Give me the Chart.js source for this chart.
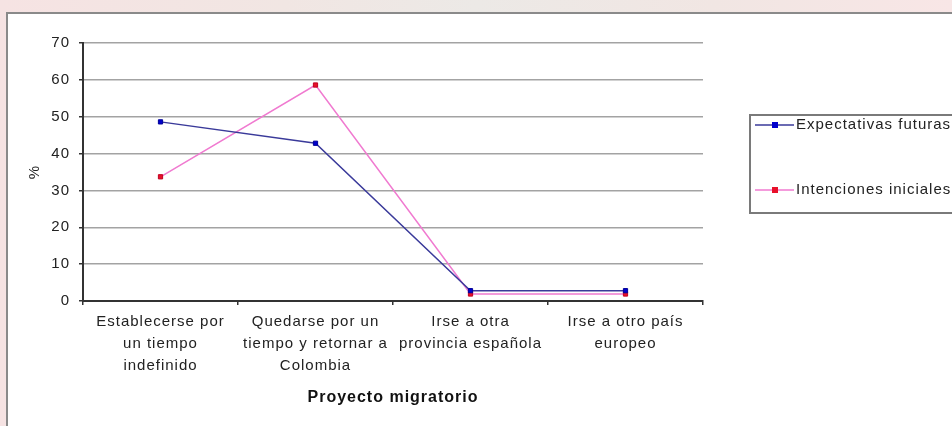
<!DOCTYPE html>
<html>
<head>
<meta charset="utf-8">
<script src="https://cdn.jsdelivr.net/npm/chart.js@4"></script>
<style>
  html, body { margin:0; padding:0; width:952px; height:426px; overflow:hidden; }
  body { background: linear-gradient(90deg, #f6e3e3 0%, #f1e6e3 30%, #ece9e6 50%, #f1e6e3 75%, #f8e6e6 100%); position:relative; }
  #frame { position:absolute; left:6px; top:12px; width:960px; height:430px; background:#fff; border-left:2px solid #8a8a8a; border-top:2px solid #8a8a8a; }
  #wrap { position:absolute; left:0; top:0; width:952px; height:426px; }
</style>
</head>
<body>
<div id="frame"></div>
<div id="wrap"><canvas id="c" width="952" height="426"></canvas></div>
<script>
const categories = [
  ["Establecerse por", "un tiempo", "indefinido"],
  ["Quedarse por un", "tiempo y retornar a", "Colombia"],
  ["Irse a otra", "provincia española"],
  ["Irse a otro país", "europeo"]
];
const expectativasFuturas = [48.6, 42.8, 2.8, 2.8];
const intencionesIniciales = [33.7, 58.6, 1.9, 1.9];
const seriesNames = ["Expectativas futuras", "Intenciones iniciales"];
const yTicks = [0, 10, 20, 30, 40, 50, 60, 70];
const xTitle = "Proyecto migratorio";
const yTitle = "%";

const spacingPlugin = {
  id: 'spacing',
  beforeLayout(chart) { chart.ctx.letterSpacing = '1px'; },
  beforeDraw(chart) { chart.ctx.letterSpacing = '1px'; }
};

const legendPlugin = {
  id: 'customLegend',
  afterDraw(chart) {
    const ctx = chart.ctx;
    ctx.save();
    ctx.strokeStyle = '#7a7a7a';
    ctx.lineWidth = 2;
    ctx.strokeRect(750, 115, 220, 98);
    const ys = [125, 190];
    chart.data.datasets.forEach((ds, i) => {
      const y = ys[i];
      ctx.strokeStyle = ds.borderColor;
      ctx.lineWidth = 1.5;
      ctx.beginPath(); ctx.moveTo(755, y); ctx.lineTo(794, y); ctx.stroke();
      ctx.fillStyle = ds.pointBackgroundColor;
      ctx.fillRect(772, y - 3, 6, 6);
      ctx.fillStyle = '#222';
      ctx.font = '15px "Liberation Sans", Arial, sans-serif';
      ctx.letterSpacing = '1px';
      ctx.textBaseline = 'middle';
      ctx.textAlign = 'left';
      ctx.fillText(ds.label, 796, y);
    });
    ctx.restore();
  }
};

new Chart(document.getElementById('c'), {
  type: 'line',
  data: {
    labels: categories,
    datasets: [
      {
        label: seriesNames[0],
        data: expectativasFuturas,
        borderColor: '#3a3a9a',
        borderWidth: 1.5,
        pointStyle: 'rect',
        pointRadius: 3,
        pointBackgroundColor: '#0000cc',
        pointBorderColor: '#000099',
        pointBorderWidth: 1,
        tension: 0
      },
      {
        label: seriesNames[1],
        data: intencionesIniciales,
        borderColor: '#f07ad0',
        borderWidth: 1.5,
        pointStyle: 'rect',
        pointRadius: 3,
        pointBackgroundColor: '#e8102a',
        pointBorderColor: '#c00020',
        pointBorderWidth: 1,
        tension: 0
      }
    ]
  },
  options: {
    responsive: false,
    animation: false,
    devicePixelRatio: 1,
    layout: { padding: { left: 0, right: 249, top: 43, bottom: 0 } },
    plugins: { legend: { display: false }, tooltip: { enabled: false }, title: { display: false } },
    scales: {
      x: {
        type: 'category',
        offset: true,
        afterFit(scale) { scale.height = 125; },
        grid: { offset: true, drawOnChartArea: false, drawTicks: true, tickLength: 4, color: '#333', lineWidth: 1.5 },
        border: { color: '#333', width: 2 },
        ticks: {
          autoSkip: false, maxRotation: 0, minRotation: 0, padding: 6, color: '#222',
          font: { family: '"Liberation Sans", Arial, sans-serif', size: 15, lineHeight: 1.45 }
        },
        title: {
          display: true, text: xTitle, color: '#111',
          font: { family: '"Liberation Sans", Arial, sans-serif', size: 16, weight: 'bold', lineHeight: 1.2 },
          padding: { top: 0, bottom: 19 }
        }
      },
      y: {
        min: 0, max: 70,
        afterFit(scale) { scale.width = 83; },
        afterBuildTicks(scale) { scale.ticks = yTicks.map(v => ({ value: v })); },
        grid: { color: '#a3a3a3', lineWidth: 1.5, tickColor: '#333', tickLength: 4, drawTicks: true },
        border: { color: '#333', width: 2 },
        ticks: {
          padding: 9, color: '#222',
          font: { family: '"Liberation Sans", Arial, sans-serif', size: 15 }
        },
        title: {
          display: true, text: yTitle, color: '#222',
          font: { family: '"Liberation Sans", Arial, sans-serif', size: 15, lineHeight: 1.2 },
          padding: { top: 26, bottom: 0 }
        }
      }
    }
  },
  plugins: [spacingPlugin, legendPlugin]
});
</script>
</body>
</html>
